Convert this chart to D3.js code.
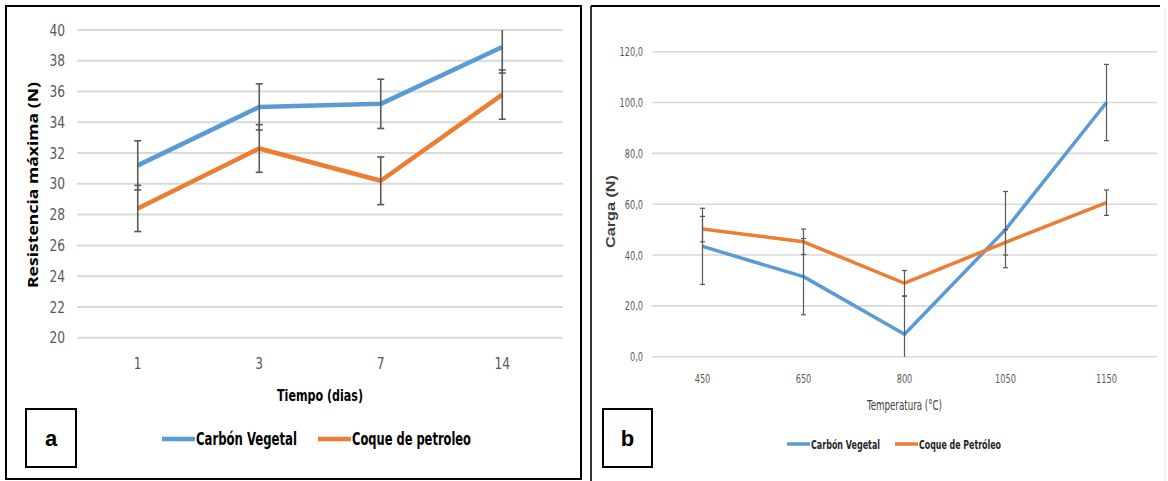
<!DOCTYPE html>
<html>
<head>
<meta charset="utf-8">
<script src="https://cdn.jsdelivr.net/npm/d3@7"></script>
<style>
  body { margin: 0; background: #fff; }
  svg { display: block; }
  .narrow { font-family: "Liberation Sans Narrow", "DejaVu Sans Condensed", sans-serif; }
</style>
</head>
<body>
<div id="chart"></div>
<script>
// panel a: resistencia vs tiempo
const diasA = ['1', '3', '7', '14'];
const carbonA = [31.2, 35.0, 35.2, 38.9];
const carbonErrA = [1.6, 1.5, 1.6, 1.7];
const coqueA = [28.4, 32.3, 30.2, 35.8];
const coqueErrA = [1.5, 1.55, 1.55, 1.6];
const ticksA = [20, 22, 24, 26, 28, 30, 32, 34, 36, 38, 40];

// panel b: carga vs temperatura
const tempB = ['450', '650', '800', '1050', '1150'];
const carbonB = [43.4, 31.5, 8.8, 50.0, 100.0];
const carbonErrB = [15, 15, 15, 15, 15];
const coqueB = [50.2, 45.2, 28.9, 45.0, 60.6];
const coqueErrB = [5, 5, 5, 5, 5];
const ticksB = [0, 20, 40, 60, 80, 100, 120];

const blue = '#5b9bd5';
const orange = '#ed7d31';

const width = 1168, height = 481;
const svg = d3.select('#chart').append('svg')
  .attr('width', width)
  .attr('height', height);

// squash text horizontally (no narrow fonts here), by factor or to a fixed width
function squeeze(sel, f, fixed) {
  sel.each(function () {
    const w = fixed || this.getComputedTextLength() * f;
    d3.select(this).attr('textLength', w).attr('lengthAdjust', 'spacingAndGlyphs');
  });
}

// draws one excel-like line chart with error bars
function drawPanel(cfg) {
  const g = svg.append('g');
  const x = d3.scaleBand().domain(cfg.cats).range([cfg.left, cfg.right]);
  const y = d3.scaleLinear().domain(cfg.domain).range([cfg.bottom, cfg.top]);
  const cx = (c) => x(c) + x.bandwidth() / 2;

  // gridlines
  g.append('g').selectAll('line').data(cfg.ticks).join('line')
    .attr('x1', cfg.left).attr('x2', cfg.right)
    .attr('y1', (d) => y(d)).attr('y2', (d) => y(d))
    .attr('stroke', '#d9d9d9').attr('stroke-width', cfg.gridW);

  // y labels
  g.append('g').selectAll('text').data(cfg.ticks).join('text')
    .attr('class', 'narrow')
    .attr('x', cfg.left - cfg.yLabGap).attr('y', (d) => y(d))
    .attr('dy', '0.35em').attr('text-anchor', 'end')
    .attr('font-size', cfg.tickSize).attr('fill', '#595959')
    .text(cfg.fmt)
    .call(squeeze, cfg.squash);

  // x labels
  g.append('g').selectAll('text').data(cfg.cats).join('text')
    .attr('class', 'narrow')
    .attr('x', cx).attr('y', cfg.xLabY)
    .attr('dy', '0.35em').attr('text-anchor', 'middle')
    .attr('font-size', cfg.tickSize).attr('fill', '#595959')
    .text((d) => d)
    .call(squeeze, cfg.squash);

  const series = [
    { vals: cfg.s1, err: cfg.e1, color: blue },
    { vals: cfg.s2, err: cfg.e2, color: orange }
  ];
  const [lo, hi] = cfg.domain;

  series.forEach((s) => {
    const pts = cfg.cats.map((c, i) => [cx(c), y(s.vals[i])]);
    g.append('path')
      .attr('d', d3.line()(pts))
      .attr('fill', 'none').attr('stroke', s.color)
      .attr('stroke-width', cfg.lineW).attr('stroke-linejoin', 'round');
  });

  series.forEach((s) => {
    const eg = g.append('g').attr('stroke', '#595959').attr('stroke-width', cfg.errW);
    cfg.cats.forEach((c, i) => {
      const top = s.vals[i] + s.err[i];
      const bot = s.vals[i] - s.err[i];
      const px = cx(c);
      eg.append('line')
        .attr('x1', px).attr('x2', px)
        .attr('y1', y(Math.min(top, hi))).attr('y2', y(Math.max(bot, lo)));
      [top, bot].forEach((v) => {
        if (v > hi || v < lo) return;
        eg.append('line')
          .attr('x1', px - cfg.cap).attr('x2', px + cfg.cap)
          .attr('y1', y(v)).attr('y2', y(v));
      });
    });
  });
  return g;
}

// ---- panel a ----
svg.append('rect').attr('x', 6).attr('y', 6).attr('width', 575).attr('height', 473)
  .attr('fill', 'none').attr('stroke', '#000').attr('stroke-width', 2);

drawPanel({
  cats: diasA, s1: carbonA, e1: carbonErrA, s2: coqueA, e2: coqueErrA,
  ticks: ticksA, domain: [20, 40], fmt: (d) => d,
  left: 77, right: 563, top: 30, bottom: 337.7,
  gridW: 2, lineW: 4.5, errW: 1.6, cap: 3.5,
  tickSize: 16, squash: 0.85, yLabGap: 12, xLabY: 363
});

svg.append('text').attr('class', 'narrow')
  .attr('x', 277).attr('y', 395).attr('dy', '0.35em')
  .attr('font-size', 16).attr('font-weight', 'bold')
  .text('Tiempo (dias)')
  .call(squeeze, 1, 86);

svg.append('text')
  .attr('transform', 'translate(33,288) rotate(-90)')
  .attr('dy', '0.35em')
  .attr('font-family', '"Open Sans", sans-serif')
  .attr('font-size', 15).attr('font-weight', 'bold')
  .text('Resistencia máxima (N)')
  .call(squeeze, 1, 206);

// legend a
const legA = [
  { name: 'Carbón Vegetal', color: blue, x: 162, w: 101 },
  { name: 'Coque de petroleo', color: orange, x: 318, w: 119 }
];
legA.forEach((d) => {
  svg.append('line').attr('x1', d.x).attr('x2', d.x + 33)
    .attr('y1', 439).attr('y2', 439)
    .attr('stroke', d.color).attr('stroke-width', 4.5);
  svg.append('text').attr('class', 'narrow')
    .attr('x', d.x + 34).attr('y', 439).attr('dy', '0.35em')
    .attr('font-size', 17).attr('font-weight', 'bold')
    .text(d.name)
    .call(squeeze, 1, d.w);
});

svg.append('rect').attr('x', 26).attr('y', 409).attr('width', 50).attr('height', 58)
  .attr('fill', '#fff').attr('stroke', '#000').attr('stroke-width', 2);
svg.append('text').attr('x', 51).attr('y', 438).attr('dy', '0.35em')
  .attr('text-anchor', 'middle')
  .attr('font-family', '"Liberation Sans", Arial, sans-serif')
  .attr('font-size', 22).attr('font-weight', 'bold').text('a');

// ---- panel b ----
svg.append('line').attr('x1', 591).attr('x2', 1160).attr('y1', 6).attr('y2', 6)
  .attr('stroke', '#000').attr('stroke-width', 2);
svg.append('line').attr('x1', 591).attr('x2', 591).attr('y1', 6).attr('y2', 481)
  .attr('stroke', '#000').attr('stroke-width', 1.6);
svg.append('line').attr('x1', 1165).attr('x2', 1165).attr('y1', 8).attr('y2', 481)
  .attr('stroke', '#e3e3e3').attr('stroke-width', 1);

drawPanel({
  cats: tempB, s1: carbonB, e1: carbonErrB, s2: coqueB, e2: coqueErrB,
  ticks: ticksB, domain: [0, 120], fmt: (d) => d3.format('.1f')(d).replace('.', ','),
  left: 652, right: 1157, top: 51.7, bottom: 356.7,
  gridW: 1.6, lineW: 3.5, errW: 1.2, cap: 2.5,
  tickSize: 13, squash: 0.7, yLabGap: 9, xLabY: 378
});

svg.append('text').attr('class', 'narrow')
  .attr('x', 867).attr('y', 405).attr('dy', '0.35em')
  .attr('font-size', 14).attr('fill', '#404040')
  .text('Temperatura (°C)')
  .call(squeeze, 1, 75);

svg.append('text')
  .attr('transform', 'translate(611,248) rotate(-90)')
  .attr('dy', '0.35em')
  .attr('font-family', '"Liberation Sans", Arial, sans-serif')
  .attr('font-size', 12).attr('font-weight', 'bold')
  .attr('fill', '#404040')
  .text('Carga  (N)')
  .call(squeeze, 1, 73);

// legend b
const legB = [
  { name: 'Carbón Vegetal', color: blue, x: 787, w: 69 },
  { name: 'Coque de Petróleo', color: orange, x: 895, w: 82 }
];
legB.forEach((d) => {
  svg.append('line').attr('x1', d.x).attr('x2', d.x + 23)
    .attr('y1', 444).attr('y2', 444)
    .attr('stroke', d.color).attr('stroke-width', 3.5);
  svg.append('text').attr('class', 'narrow')
    .attr('x', d.x + 24).attr('y', 444).attr('dy', '0.35em')
    .attr('font-size', 13).attr('font-weight', 'bold').attr('fill', '#262626')
    .text(d.name)
    .call(squeeze, 1, d.w);
});

svg.append('rect').attr('x', 603).attr('y', 409).attr('width', 49).attr('height', 58)
  .attr('fill', '#fff').attr('stroke', '#000').attr('stroke-width', 2);
svg.append('text').attr('x', 627.5).attr('y', 438).attr('dy', '0.35em')
  .attr('text-anchor', 'middle')
  .attr('font-family', '"Liberation Sans", Arial, sans-serif')
  .attr('font-size', 22).attr('font-weight', 'bold').text('b');
</script>
</body>
</html>
